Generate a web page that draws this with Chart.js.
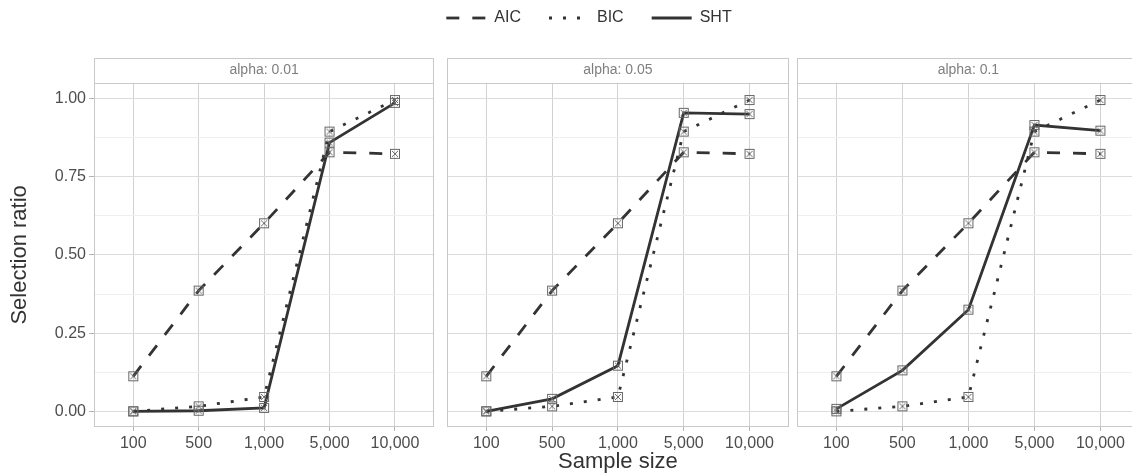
<!DOCTYPE html>
<html>
<head>
<meta charset="utf-8">
<title>Selection ratio by sample size</title>
<script src="https://cdn.jsdelivr.net/npm/chart.js@4.4.1/dist/chart.umd.min.js"></script>
<style>
  html, body { margin: 0; padding: 0; background: #ffffff; }
  #figure { position: relative; width: 1132px; height: 474px; overflow: hidden; }
  #figure canvas { position: absolute; }
</style>
</head>
<body>
<div id="figure">
  <canvas id="legendChart" width="600" height="160" style="left:289px; top:-18px"></canvas>
  <canvas id="panel1" width="441" height="474" style="left:0; top:0"></canvas>
  <canvas id="panel2" width="360" height="474" style="left:440px; top:0"></canvas>
  <canvas id="panel3" width="360" height="474" style="left:790px; top:0"></canvas>
</div>
<script>
// x categories and y breaks
const sampleSizes = ['100', '500', '1,000', '5,000', '10,000'];
const yMajorTicks = [0, 0.25, 0.5, 0.75, 1];
const yMinorTicks = [0.125, 0.375, 0.625, 0.875];

// selection ratios per criterion (AIC / BIC don't depend on alpha)
const aicRatio = [0.112, 0.386, 0.601, 0.828, 0.823];
const bicRatio = [0.000, 0.016, 0.046, 0.894, 0.995];
const shtRatio001 = [0.000, 0.002, 0.011, 0.859, 0.986];
const shtRatio005 = [0.000, 0.040, 0.146, 0.954, 0.950];
const shtRatio010 = [0.008, 0.131, 0.325, 0.915, 0.897];

const alphaLabels = ['alpha: 0.01', 'alpha: 0.05', 'alpha: 0.1'];

Chart.defaults.font.family = "'Liberation Sans', Arial, sans-serif";
Chart.defaults.animation = false;

const lineColor = '#333333';
const lineWidth = 2.8;
const tickTextColor = '#4d4d4d';
const gridMajor = '#dcdcdc';
const gridMinor = '#efefef';
const frameColor = '#c9c9c9';

// square with a cross inside (ggplot shape 7)
function crossSquare() {
    const c = document.createElement('canvas');
    c.width = 12;
    c.height = 12;
    const g = c.getContext('2d');
    g.strokeStyle = '#666666';
    g.lineWidth = 1;
    g.strokeRect(1.5, 1.5, 9, 9);
    g.beginPath();
    g.moveTo(3, 3); g.lineTo(9, 9);
    g.moveTo(9, 3); g.lineTo(3, 9);
    g.stroke();
    return c;
}
const marker = crossSquare();

const seriesStyles = [
    { label: 'AIC', borderDash: [13, 13] },
    { label: 'BIC', borderDash: [3, 11] },
    { label: 'SHT', borderDash: [] }
];

const toPoints = values => values.map((v, i) => ({ x: i, y: v }));

function buildDatasets(valueSets, withMarkers) {
    return seriesStyles.map((s, i) => ({
        label: s.label,
        data: toPoints(valueSets[i] || []),
        borderColor: lineColor,
        backgroundColor: lineColor,
        borderWidth: lineWidth,
        borderDash: s.borderDash,
        borderCapStyle: 'butt',
        tension: 0,
        fill: false,
        pointStyle: withMarkers ? marker : 'line',
        pointRadius: 4,
        pointHoverRadius: 4
    }));
}

const isMajor = v => Math.abs(v * 4 - Math.round(v * 4)) < 1e-6;

// panel border + strip box around the title
const facetFrame = {
    id: 'facetFrame',
    afterDraw(chart) {
        const { ctx, chartArea: a } = chart;
        const stripTop = chart.titleBlock ? Math.round(chart.titleBlock.top) : 58;
        const left = Math.round(a.left) + 0.5;
        const top = Math.round(a.top) + 0.5;
        const w = Math.round(a.right) - Math.round(a.left) - 1;
        const h = Math.round(a.bottom) - Math.round(a.top) - 1;
        ctx.save();
        ctx.strokeStyle = frameColor;
        ctx.lineWidth = 1;
        ctx.setLineDash([]);
        ctx.strokeRect(left, top, w, h);
        ctx.strokeRect(left, stripTop + 0.5, w, Math.round(a.top) - stripTop);
        ctx.restore();
    }
};

function makePanel(id, stripText, shtValues, cfg) {
    new Chart(document.getElementById(id), {
        type: 'line',
        data: { datasets: buildDatasets([aicRatio, bicRatio, shtValues], true) },
        plugins: [facetFrame],
        options: {
            responsive: false,
            layout: { padding: { top: 58, bottom: 0, left: cfg.padLeft, right: cfg.padRight } },
            plugins: {
                legend: { display: false },
                tooltip: { enabled: false },
                title: {
                    display: true,
                    text: stripText,
                    fullSize: false,
                    color: '#7f7f7f',
                    font: { size: 14, weight: 'normal' },
                    padding: { top: 4, bottom: 4 }
                }
            },
            scales: {
                x: {
                    type: 'linear',
                    min: -0.6,
                    max: 4.6,
                    afterBuildTicks: scale => {
                        scale.ticks = sampleSizes.map((_, i) => ({ value: i }));
                    },
                    afterFit: scale => { scale.height = 47; },
                    ticks: {
                        autoSkip: false,
                        maxRotation: 0,
                        color: tickTextColor,
                        font: { size: 16 },
                        padding: 3,
                        callback: value => sampleSizes[value] ?? ''
                    },
                    grid: {
                        color: '#d2d2d2',
                        tickColor: '#b3b3b3',
                        tickLength: 4
                    },
                    border: { display: false },
                    title: {
                        display: cfg.xTitle,
                        text: 'Sample size',
                        color: '#333333',
                        font: { size: 22 },
                        padding: { top: 0, bottom: -1 }
                    }
                },
                y: {
                    type: 'linear',
                    min: -0.05,
                    max: 1.05,
                    afterBuildTicks: scale => {
                        scale.ticks = yMajorTicks.concat(yMinorTicks)
                            .sort((a, b) => a - b)
                            .map(v => ({ value: v }));
                    },
                    afterFit: scale => { scale.width = cfg.yAxis ? 94 : 0; },
                    ticks: {
                        display: cfg.yAxis,
                        autoSkip: false,
                        color: tickTextColor,
                        font: { size: 16 },
                        padding: 3,
                        callback: value => isMajor(value) ? value.toFixed(2) : ''
                    },
                    grid: {
                        drawTicks: cfg.yAxis,
                        tickLength: 5,
                        color: ctx => (ctx.tick && isMajor(ctx.tick.value)) ? gridMajor : gridMinor,
                        tickColor: ctx => (ctx.tick && isMajor(ctx.tick.value)) ? '#b3b3b3' : 'rgba(0,0,0,0)'
                    },
                    border: { display: false },
                    title: {
                        display: cfg.yAxis,
                        text: 'Selection ratio',
                        color: '#333333',
                        font: { size: 22 },
                        padding: { top: 7, bottom: 0 }
                    }
                }
            }
        }
    });
}

makePanel('panel1', alphaLabels[0], shtRatio001, { yAxis: true, xTitle: false, padLeft: 0, padRight: 3 });
makePanel('panel2', alphaLabels[1], shtRatio005, { yAxis: false, xTitle: true, padLeft: 5, padRight: 11 });
makePanel('panel3', alphaLabels[2], shtRatio010, { yAxis: false, xTitle: false, padLeft: 6, padRight: 10 });

// shared legend across the three panels; line keys take the dataset dash patterns
new Chart(document.getElementById('legendChart'), {
    type: 'line',
    data: { datasets: buildDatasets([], false) },
    options: {
        responsive: false,
        layout: { padding: 0 },
        scales: { x: { display: false }, y: { display: false } },
        plugins: {
            tooltip: { enabled: false },
            legend: {
                display: true,
                position: 'top',
                align: 'center',
                labels: {
                    usePointStyle: true,
                    pointStyle: 'line',
                    pointStyleWidth: 40,
                    padding: 28,
                    color: '#333333',
                    font: { size: 16 },
                    generateLabels: chart => Chart.defaults.plugins.legend.labels.generateLabels(chart)
                        .map(item => {
                            const ds = chart.data.datasets[item.datasetIndex];
                            return Object.assign(item, {
                                lineDash: ds.borderDash,
                                lineCap: 'butt',
                                lineWidth: ds.borderWidth,
                                strokeStyle: ds.borderColor
                            });
                        })
                }
            }
        }
    }
});
</script>
</body>
</html>
